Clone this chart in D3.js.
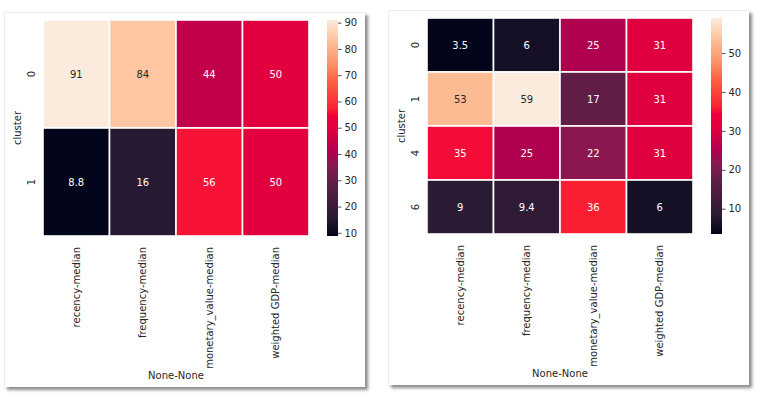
<!DOCTYPE html>
<html>
<head>
<meta charset="utf-8">
<script src="https://cdn.jsdelivr.net/npm/d3@7"></script>
<style>
  body { margin: 0; background: #fff; width: 762px; height: 399px; position: relative; overflow: hidden; }
  .panel {
    position: absolute; background: #fff;
    border-top: 1px solid #ececec; border-left: 1px solid #ececec;
    box-shadow: 3px 3px 3px rgba(0,0,0,0.45);
  }
  text { font-family: "DejaVu Sans", sans-serif; fill: #262626; }
</style>
</head>
<body>
<div id="container"></div>
<script>
// data we work with
let columns = ["recency-median", "frequency-median", "monetary_value-median", "weighted GDP-median"];

let leftClusters = ["0", "1"];
let leftValues = [
  [91, 84, 44, 50],
  [8.8, 16, 56, 50]
];
let leftTicks = [10, 20, 30, 40, 50, 60, 70, 80, 90];

let rightClusters = ["0", "1", "4", "6"];
let rightValues = [
  [3.5, 6, 25, 31],
  [53, 59, 17, 31],
  [35, 25, 22, 31],
  [9, 9.4, 36, 6]
];
let rightTicks = [10, 20, 30, 40, 50];

// rocket-ish colormap as it shows up in the picture
let rocketStops = [
  [0.00, "#03051a"],
  [0.09, "#291b34"],
  [0.24, "#5e1e47"],
  [0.33, "#8a1850"],
  [0.39, "#b2004e"],
  [0.43, "#c4004a"],
  [0.50, "#e2003f"],
  [0.555, "#ec003c"],
  [0.57, "#f60d37"],
  [0.59, "#fa2331"],
  [0.72, "#fc6440"],
  [0.80, "#fd9468"],
  [0.89, "#fdba92"],
  [0.92, "#fec9a4"],
  [1.00, "#fbebdd"]
];
let rocket = d3.scaleLinear()
  .domain(rocketStops.map(d => d[0]))
  .range(rocketStops.map(d => d[1]))
  .interpolate(d3.interpolateRgb)
  .clamp(true);

function fmt(v) {
  return d3.format(".2g")(v).replace(/\.0$/, "");
}

function drawPanel(id, left, top, rows, values, ticks) {
  let w = 360, h = 374;
  let div = d3.select("#container").append("div")
    .attr("class", "panel")
    .style("left", left + "px")
    .style("top", top + "px")
    .style("width", w + "px")
    .style("height", h + "px");

  let svg = div.append("svg").attr("width", w).attr("height", h);

  let hm = { x0: 38, x1: 304, y0: 7, y1: 223 };

  let x = d3.scaleBand().domain(columns).range([hm.x0, hm.x1]);
  let y = d3.scaleBand().domain(rows).range([hm.y0, hm.y1]);

  let flat = values.flat();
  let vmin = d3.min(flat), vmax = d3.max(flat);
  let color = d3.scaleLinear().domain([vmin, vmax]).range([0, 1]);

  let cells = [];
  rows.forEach((r, i) => columns.forEach((c, j) => cells.push({ r: r, c: c, v: values[i][j] })));

  svg.selectAll("rect.cell").data(cells).enter()
    .append("rect")
      .attr("class", "cell")
      .attr("x", d => x(d.c))
      .attr("y", d => y(d.r))
      .attr("width", x.bandwidth())
      .attr("height", y.bandwidth())
      .attr("fill", d => rocket(color(d.v)))
      .attr("stroke", "#fff")
      .attr("stroke-width", 1.6);

  svg.selectAll("text.annot").data(cells).enter()
    .append("text")
      .attr("class", "annot")
      .attr("x", d => x(d.c) + x.bandwidth() / 2)
      .attr("y", d => y(d.r) + y.bandwidth() / 2)
      .attr("text-anchor", "middle")
      .attr("dominant-baseline", "central")
      .style("font-size", "10px")
      .style("fill", d => color(d.v) > 0.8 ? "#262626" : "#ffffff")
      .text(d => fmt(d.v));

  // y axis
  let yAxis = svg.append("g")
    .attr("transform", "translate(" + hm.x0 + ",0)")
    .call(d3.axisLeft(y).tickSize(0));
  yAxis.select(".domain").remove();
  yAxis.selectAll("text")
    .attr("x", 0).attr("y", 0).attr("dy", null)
    .attr("text-anchor", "middle")
    .attr("dominant-baseline", "central")
    .attr("transform", "translate(-12,0) rotate(-90)")
    .style("font-size", "10px")
    .style("fill", "#262626");

  // x axis
  let xAxis = svg.append("g")
    .attr("transform", "translate(0," + hm.y1 + ")")
    .call(d3.axisBottom(x).tickSize(0));
  xAxis.select(".domain").remove();
  xAxis.selectAll("text")
    .attr("x", 0).attr("y", 0).attr("dy", null)
    .attr("text-anchor", "end")
    .attr("dominant-baseline", "central")
    .attr("transform", "translate(0,11) rotate(-90)")
    .style("font-size", "10px")
    .style("fill", "#262626");

  svg.append("text")
    .attr("transform", "translate(12," + ((hm.y0 + hm.y1) / 2) + ") rotate(-90)")
    .attr("text-anchor", "middle")
    .attr("dominant-baseline", "central")
    .style("font-size", "10px")
    .text("cluster");

  svg.append("text")
    .attr("x", (hm.x0 + hm.x1) / 2)
    .attr("y", 362)
    .attr("text-anchor", "middle")
    .attr("dominant-baseline", "central")
    .style("font-size", "10px")
    .text("None-None");

  // colorbar
  let cb = { x: 322, w: 11 };
  let grad = svg.append("defs").append("linearGradient")
    .attr("id", id + "-grad")
    .attr("x1", 0).attr("y1", 1).attr("x2", 0).attr("y2", 0);
  grad.selectAll("stop").data(d3.range(0, 1.0001, 0.005)).enter()
    .append("stop")
      .attr("offset", d => d)
      .attr("stop-color", d => rocket(d));
  svg.append("rect")
    .attr("x", cb.x).attr("y", hm.y0)
    .attr("width", cb.w).attr("height", hm.y1 - hm.y0)
    .attr("fill", "url(#" + id + "-grad)");

  let cbScale = d3.scaleLinear().domain([vmin, vmax]).range([hm.y1, hm.y0]);
  let cbAxis = svg.append("g")
    .attr("transform", "translate(" + (cb.x + cb.w) + ",0)")
    .call(d3.axisRight(cbScale).tickValues(ticks).tickSize(3.5).tickPadding(3));
  cbAxis.select(".domain").remove();
  cbAxis.selectAll("line").attr("stroke", "#262626").attr("stroke-width", 0.8);
  cbAxis.selectAll("text")
    .style("font-size", "10px")
    .style("font-family", "DejaVu Sans")
    .style("fill", "#262626");
}

drawPanel("left", 4, 12, leftClusters, leftValues, leftTicks);
drawPanel("right", 388, 10, rightClusters, rightValues, rightTicks);
</script>
</body>
</html>
